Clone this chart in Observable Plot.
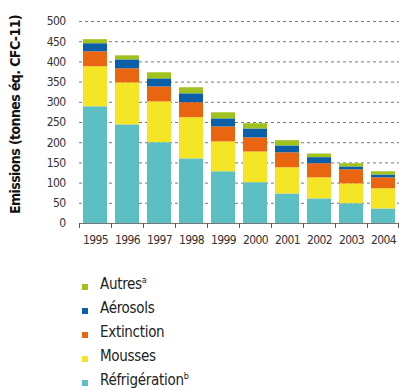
<!DOCTYPE html>
<html><head><meta charset="utf-8">
<script src="https://cdn.jsdelivr.net/npm/d3@7"></script>
<script src="https://cdn.jsdelivr.net/npm/@observablehq/plot@0.6"></script>
<style>
body{margin:0;background:#fff;font-family:"DejaVu Sans Condensed","Liberation Sans Narrow",sans-serif;}
#legend{position:relative;margin-top:17px;}
.item{display:flex;align-items:center;height:24px;font-size:15px;color:#222;letter-spacing:-0.3px;}
.sw{width:6px;height:6px;margin-left:82px;margin-right:12px;margin-top:5px;}
sup{font-size:9px;vertical-align:6px;line-height:0;}
</style></head><body>
<div id="chart"></div>
<div id="legend"></div>
<script>
const years = ["1995","1996","1997","1998","1999","2000","2001","2002","2003","2004"];
const refrigeration = [289,244,200,160,128,101,73,61,49,36];
const mousses      = [99,104,101,102,74,76,65,52,49,50];
const extinction   = [37,35,37,37,37,35,37,35,35,27];
const aerosols     = [20,22,20,22,20,22,17,15,7,7];
const autres       = [10,10,15,15,15,13,13,9,8,8];
const series = ["Réfrigération","Mousses","Extinction","Aérosols","Autres"];
const seriesValues = [refrigeration, mousses, extinction, aerosols, autres];
const colors = ["#5bbfc4","#f4e526","#e9650f","#0a5fa8","#9fc31c"];
const legendLabels = [["Autres","a"],["Aérosols",""],["Extinction",""],["Mousses",""],["Réfrigération","b"]];
const legendColors = ["#9fc31c","#0a5fa8","#e9650f","#f4e526","#5bbfc4"];
const yTicks = d3.range(0, 501, 50);

const data = years.flatMap((y, i) => series.map((s, j) => ({year: y, category: s, value: seriesValues[j][i]})));

const W = 399, ML = 79, MR = 0;
const half = (W - ML - MR) / years.length / 2;

const chart = Plot.plot({
  width: W, height: 255,
  marginLeft: ML, marginRight: MR, marginTop: 21, marginBottom: 32,
  style: {fontFamily: '"DejaVu Sans Condensed","Liberation Sans Narrow",sans-serif', fontSize: "12px", color: "#333", background: "#fff", letterSpacing: "-0.6px"},
  x: {domain: years, paddingInner: 0.25, paddingOuter: 0.125, label: null, tickSize: 0, tickPadding: 12},
  y: {domain: [0, 500], ticks: yTicks, tickSize: 0, tickPadding: 14, label: null},
  color: {domain: series, range: colors},
  marks: [
    Plot.ruleY(yTicks.filter(d => d > 0), {stroke: "#777", strokeDasharray: "3,3", strokeOpacity: 1}),
    Plot.barY(data, Plot.stackY({x: "year", y: "value", z: "category", fill: "category", order: series})),
    Plot.ruleY([0], {stroke: "#777", strokeWidth: 1.2}),
    Plot.ruleX(years, {x: d => d, dx: -half, y1: 0, y2: -12, stroke: "#555"}),
    Plot.ruleX([years[years.length - 1]], {x: d => d, dx: half - 1, y1: 0, y2: -12, stroke: "#555"}),
    Plot.text(["Emissions (tonnes éq. CFC-11)"], {frameAnchor: "left", textAnchor: "middle", rotate: -90, dx: -64, dy: -8, fontWeight: "bold", fontSize: 14, fill: "#111", letterSpacing: "-0.3px"})
  ]
});
document.getElementById("chart").appendChild(chart);

const legend = document.getElementById("legend");
legendLabels.forEach(([t, s], i) => {
  const row = document.createElement("div");
  row.className = "item";
  row.innerHTML = `<span class="sw" style="background:${legendColors[i]}"></span><span>${t}${s ? `<sup>${s}</sup>` : ""}</span>`;
  legend.appendChild(row);
});
</script>
</body></html>
